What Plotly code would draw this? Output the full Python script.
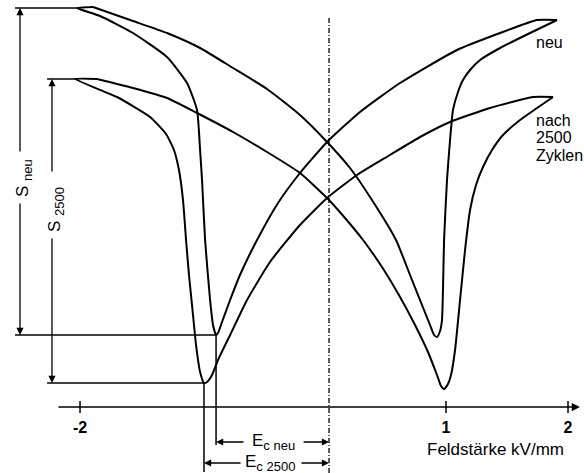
import plotly.graph_objects as go

# Field strength E in kV/mm, strain S in arbitrary units
# Butterfly loop of the new ceramic ("neu"): rising-field branch
neu_up_E = [-1.893, -1.566, -1.287, -1.016, -0.746, -0.467, -0.197, 0.025, 0.213, 0.393,
            0.590, 0.705, 0.803, 0.869, 0.902, 0.926, 0.951, 0.967, 0.975, 0.984,
            1.008, 1.033, 1.057, 1.098, 1.139, 1.197, 1.279, 1.443, 1.689, 1.910]
neu_up_S = [4.00, 3.86, 3.74, 3.59, 3.39, 3.18, 2.92, 2.65, 2.39, 2.07,
            1.67, 1.32, 1.02, 0.82, 0.72, 0.70, 0.76, 0.87, 1.17, 1.67,
            2.27, 2.67, 2.97, 3.15, 3.27, 3.37, 3.47, 3.59, 3.74, 3.87]
# falling-field branch
neu_down_E = [1.910, 1.746, 1.443, 1.090, 0.623, 0.295, 0.025, -0.197, -0.377, -0.549,
              -0.689, -0.770, -0.836, -0.869, -0.885, -0.910, -0.934, -0.975, -1.000, -1.016,
              -1.041, -1.123, -1.287, -1.566, -1.836, -2.025, -1.893]
neu_down_S = [3.87, 3.87, 3.74, 3.57, 3.24, 2.95, 2.65, 2.34, 2.04, 1.67,
              1.32, 1.07, 0.85, 0.74, 0.72, 0.82, 1.07, 1.67, 2.27, 2.57,
              2.97, 3.24, 3.50, 3.74, 3.91, 3.99, 4.00]

# Butterfly loop after 2500 cycles
z2500_up_E = [-1.861, -1.566, -1.287, -1.041, -0.746, -0.467, -0.197, 0.025, 0.172, 0.320,
              0.475, 0.623, 0.746, 0.852, 0.926, 0.959, 0.984, 1.016, 1.041, 1.074,
              1.115, 1.156, 1.197, 1.246, 1.303, 1.377, 1.467, 1.607, 1.746, 1.877]
z2500_up_S = [3.28, 3.19, 3.09, 2.94, 2.75, 2.55, 2.34, 2.09, 1.89, 1.67,
              1.40, 1.10, 0.82, 0.55, 0.32, 0.21, 0.18, 0.23, 0.32, 0.57,
              1.07, 1.57, 1.97, 2.22, 2.40, 2.57, 2.72, 2.87, 2.99, 3.10]
z2500_down_E = [1.877, 1.713, 1.361, 1.033, 0.787, 0.541, 0.270, 0.025, -0.197, -0.443,
                -0.631, -0.770, -0.869, -0.918, -0.959, -0.984, -1.016, -1.049, -1.082, -1.107,
                -1.131, -1.156, -1.189, -1.230, -1.295, -1.426, -1.697, -2.041, -1.861]
z2500_down_S = [3.10, 3.10, 2.99, 2.85, 2.70, 2.52, 2.32, 2.09, 1.82, 1.45,
                1.07, 0.72, 0.47, 0.32, 0.25, 0.24, 0.35, 0.62, 1.02, 1.32,
                1.67, 2.07, 2.37, 2.57, 2.73, 2.90, 3.10, 3.28, 3.28]

# Characteristic values
S_max = {"neu": 3.99, "2500": 3.28}
S_min = {"neu": 0.72, "2500": 0.24}
Ec = {"neu": -0.885, "2500": -0.984}
tick_vals = [-2, 1, 2]
tick_text = ["-2", "1", "2"]

FONT = "Liberation Sans, Arial, sans-serif"
BLACK = "#000000"

fig = go.Figure()
for E, S in [(neu_up_E, neu_up_S), (neu_down_E, neu_down_S),
             (z2500_up_E, z2500_up_S), (z2500_down_E, z2500_down_S)]:
    fig.add_trace(go.Scatter(x=E, y=S, mode="lines",
                             line=dict(color=BLACK, width=2, shape="spline", smoothing=0.5),
                             hoverinfo="skip", showlegend=False))

shapes = []
def seg(x0, y0, x1, y1, w=1.5, dash=None):
    shapes.append(dict(type="line", xref="x", yref="y", x0=x0, y0=y0, x1=x1, y1=y1,
                       line=dict(color=BLACK, width=w, dash=dash), layer="above"))

# reference lines for the strain spans
seg(-2.533, S_max["neu"], -2.025, S_max["neu"])
seg(-2.533, S_min["neu"], Ec["neu"], S_min["neu"])
seg(-2.270, S_max["2500"], -2.041, S_max["2500"])
seg(-2.270, S_min["2500"], Ec["2500"], S_min["2500"])
# drop lines from the coercive-field minima
seg(Ec["neu"], S_min["neu"], Ec["neu"], -0.38)
seg(Ec["2500"], S_min["2500"], Ec["2500"], -0.65)
# dash-dotted line through the crossing points
seg(0.041, 3.89, 0.041, -0.66, w=1.3, dash="5px,2px,1px,2px")
# tick marks crossing the field axis
for t in tick_vals:
    seg(t, 0.06, t, -0.06, w=1.5)

annotations = []
def arrow(x_tail, y_tail, x_head, y_head, w=1.3):
    annotations.append(dict(x=x_head, y=y_head, ax=x_tail, ay=y_tail, xref="x", yref="y",
                            axref="x", ayref="y", text="", showarrow=True,
                            arrowhead=2, arrowsize=1.1, arrowwidth=w, arrowcolor=BLACK))

def label(x, y, text, size=17, angle=0, xanchor="center"):
    annotations.append(dict(x=x, y=y, xref="x", yref="y", text=text, showarrow=False,
                            textangle=angle, xanchor=xanchor, yanchor="middle",
                            font=dict(family=FONT, size=size, color=BLACK)))

def sub(txt):
    return "<sub><span style='font-size:13px'>" + txt + "</span></sub>"

# field axis with arrow
arrow(-2.189, 0, 2.098, 0, w=1.5)
# strain spans
arrow(-2.492, 2.54, -2.492, S_max["neu"])
arrow(-2.492, 2.05, -2.492, S_min["neu"])
arrow(-2.230, 2.34, -2.230, S_max["2500"])
arrow(-2.230, 1.70, -2.230, S_min["2500"])
label(-2.459, 2.29, "S " + sub("neu"), angle=-90)
label(-2.197, 1.97, "S " + sub("2500"), angle=-90)
# coercive field spans
arrow(-0.648, -0.35, Ec["neu"], -0.35)
arrow(-0.180, -0.35, 0.041, -0.35)
arrow(-0.672, -0.56, Ec["2500"], -0.56)
arrow(-0.197, -0.56, 0.041, -0.56)
label(-0.418, -0.35, "E" + sub("c neu"))
label(-0.443, -0.56, "E" + sub("c 2500"))
# curve labels
label(1.722, 3.65, "neu", size=16, xanchor="left")
label(1.722, 2.87, "nach", size=16, xanchor="left")
label(1.722, 2.70, "2500", size=16, xanchor="left")
label(1.722, 2.52, "Zyklen", size=16, xanchor="left")
label(1.406, -0.42, "Feldstärke kV/mm")

fig.update_layout(
    width=584, height=473,
    margin=dict(l=0, r=0, t=0, b=0),
    paper_bgcolor="white", plot_bgcolor="white",
    shapes=shapes, annotations=annotations,
    xaxis=dict(range=[-2.656, 2.131], anchor="free", position=(473 - 407) / 473,
               showgrid=False, zeroline=False, showline=False,
               tickvals=tick_vals, ticktext=tick_text,
               ticks="outside", ticklen=6, tickcolor="rgba(0,0,0,0)",
               tickfont=dict(family=FONT, size=16, color=BLACK, weight="bold")),
    yaxis=dict(range=[-0.66, 4.07], visible=False, showgrid=False, zeroline=False),
)

fig.write_html("out.html")
